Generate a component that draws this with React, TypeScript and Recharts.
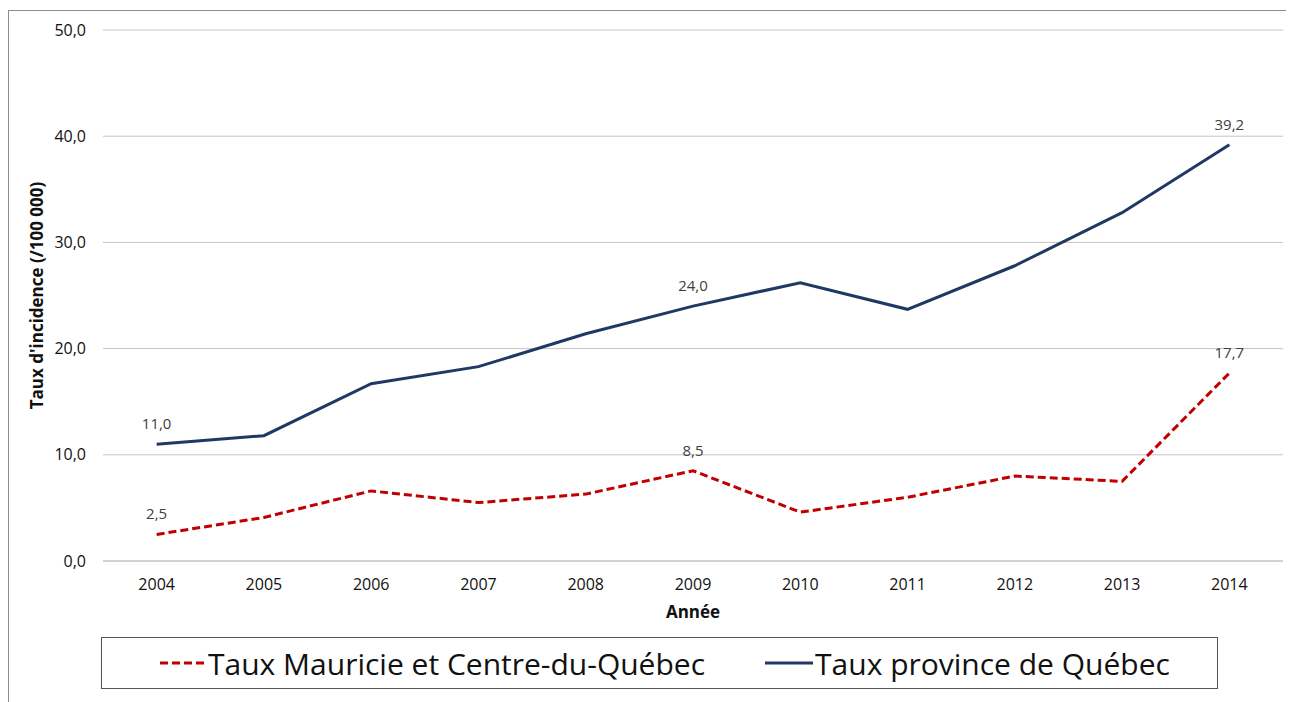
import React from 'react';
import { LineChart, Line, XAxis, YAxis, CartesianGrid, LabelList } from 'recharts';

const years = ['2004', '2005', '2006', '2007', '2008', '2009', '2010', '2011', '2012', '2013', '2014'];
const mauricie = [2.5, 4.1, 6.6, 5.5, 6.3, 8.5, 4.6, 6.0, 8.0, 7.5, 17.7];
const quebec = [11.0, 11.8, 16.7, 18.3, 21.4, 24.0, 26.2, 23.7, 27.8, 32.8, 39.2];
const labelledYears = ['2004', '2009', '2014'];
const yTicks = [0, 10, 20, 30, 40, 50];

const data = years.map((y, i) => ({ year: y, mauricie: mauricie[i], quebec: quebec[i] }));

const fmt = (v: number) => v.toFixed(1).replace('.', ',');
const FONT = '"Open Sans", sans-serif';

const makeLabel = (key: 'mauricie' | 'quebec') => (props: any) => {
  const { x, y, index } = props;
  if (!labelledYears.includes(years[index])) return null;
  const v = key === 'mauricie' ? mauricie[index] : quebec[index];
  return (
    <text x={x} y={y - 19} textAnchor="middle" dominantBaseline="middle" fill="#404040" fontSize={15} fontFamily={FONT}>
      {fmt(v)}
    </text>
  );
};

export default function App() {
  return (
    <div
      style={{
        position: 'relative',
        marginTop: 2,
        width: 1286,
        height: 692,
        borderTop: '1px solid #8c8c8c',
        borderLeft: '1px solid #8c8c8c',
        boxSizing: 'content-box',
        background: '#fff',
        overflow: 'hidden',
      }}
    >
      <LineChart width={1286} height={692} data={data} margin={{ top: 19, right: 12, left: 0, bottom: 0 }}>
        <CartesianGrid vertical={false} stroke="#c4c4c4" strokeWidth={1} />
        <XAxis
          dataKey="year"
          scale="band"
          height={142}
          axisLine={{ stroke: '#c4c4c4' }}
          tickLine={false}
          tickSize={0}
          tickMargin={18}
          tick={{ fill: '#111', fontSize: 16, fontFamily: FONT }}
          label={(p: any) => {
            const vb = p.viewBox;
            return (
              <text x={vb.x + vb.width / 2} y={vb.y + 52} textAnchor="middle" dominantBaseline="middle" fontWeight="bold" fontSize={17} fontFamily={FONT} fill="#111">
                Année
              </text>
            );
          }}
        />
        <YAxis
          width={94}
          domain={[0, 50]}
          ticks={yTicks}
          tickFormatter={fmt}
          axisLine={false}
          tickLine={false}
          tickSize={0}
          tickMargin={17}
          tick={{ fill: '#111', fontSize: 16, fontFamily: FONT }}
          label={(p: any) => {
            const vb = p.viewBox;
            const cx = 29;
            const cy = vb.y + vb.height / 2;
            return (
              <text x={cx} y={cy} transform={`rotate(-90 ${cx} ${cy})`} textAnchor="middle" dominantBaseline="middle" fontWeight="bold" fontSize={17} fontFamily={FONT} fill="#111">
                Taux d'incidence (/100 000)
              </text>
            );
          }}
        />
        <Line
          dataKey="quebec"
          stroke="#1f3864"
          strokeWidth={3}
          dot={false}
          isAnimationActive={false}
        >
          <LabelList dataKey="quebec" content={makeLabel('quebec')} />
        </Line>
        <Line
          dataKey="mauricie"
          stroke="#c00000"
          strokeWidth={3}
          strokeDasharray="8 4"
          dot={false}
          isAnimationActive={false}
        >
          <LabelList dataKey="mauricie" content={makeLabel('mauricie')} />
        </Line>
      </LineChart>
      <div
        style={{
          position: 'absolute',
          left: 92,
          top: 626,
          width: 1115,
          height: 50,
          border: '1px solid #555',
          display: 'flex',
          alignItems: 'center',
          fontFamily: FONT,
          fontSize: 30,
          color: '#111',
          whiteSpace: 'nowrap',
        }}
      >
        <svg width={46} height={10} style={{ marginLeft: 58, marginRight: 2 }}>
          <line x1={0} y1={5} x2={46} y2={5} stroke="#c00000" strokeWidth={3} strokeDasharray="8 4" />
        </svg>
        <span>Taux Mauricie et Centre-du-Québec</span>
        <svg width={48} height={10} style={{ marginLeft: 60, marginRight: 2 }}>
          <line x1={0} y1={5} x2={48} y2={5} stroke="#1f3864" strokeWidth={3} />
        </svg>
        <span>Taux province de Québec</span>
      </div>
    </div>
  );
}
